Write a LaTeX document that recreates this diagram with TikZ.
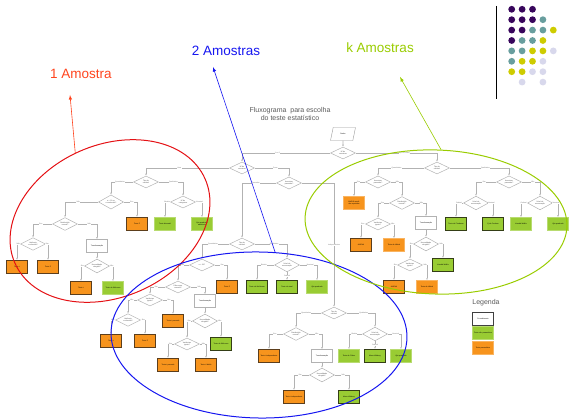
\documentclass[tikz,border=0pt]{standalone}
\usepackage{fontspec}
\setmainfont{Liberation Sans}
\usepackage{tikz}
\usetikzlibrary{arrows.meta,shapes.geometric}
\definecolor{testorange}{RGB}{247,148,29}
\definecolor{testgreen}{RGB}{153,204,51}
\definecolor{edgebrown}{RGB}{92,62,28}
\definecolor{edgeolive}{RGB}{52,62,22}
\definecolor{oneRed}{RGB}{255,68,30}
\definecolor{ellRed}{RGB}{228,16,20}
\definecolor{twoBlue}{RGB}{22,22,240}
\definecolor{kGreen}{RGB}{153,204,0}
\definecolor{dotP}{RGB}{56,6,92}
\definecolor{dotT}{RGB}{104,158,158}
\definecolor{dotY}{RGB}{206,204,0}
\definecolor{dotL}{RGB}{216,216,236}
\definecolor{dotN}{RGB}{255,255,255}

\begin{document}
\begin{tikzpicture}[x=1pt,y=-1pt,>=latex,
	tinytext/.style={font=\fontsize{1.8}{2.1}\selectfont},
	link/.style={draw=black!30,line width=0.6pt,-{Latex[length=2pt,width=1.6pt]}},
	elbl/.style={tinytext,fill=white,inner sep=0.3pt,text=black!55},
	askd/.style={diamond,tinytext,draw=black!30,fill=white,line width=0.5pt,minimum width=25pt,minimum height=12pt,inner sep=0pt,align=center,text=black!70},
	testbox/.style={rectangle,tinytext,minimum width=21pt,minimum height=13pt,inner sep=0.5pt,text width=19pt,align=center},
	ptest/.style={testbox,fill=testorange,draw=testorange!70!white,line width=0.5pt},
	ptestb/.style={ptest,draw=edgebrown,line width=1.2pt},
	ntest/.style={testbox,fill=testgreen,draw=testgreen!70!white,line width=0.5pt},
	ntestb/.style={ntest,draw=edgeolive,line width=1.2pt},
	procbox/.style={testbox,fill=white,draw=black!30,line width=0.6pt},
	bigtext/.style={font=\fontsize{13.5}{16}\selectfont}]
	\useasboundingbox (0,0) rectangle (569,419);
	\node[text=black!65,align=center,font=\fontsize{7}{8.5}\selectfont] (title) at (290,114) {Fluxograma\ \ para escolha\\do teste estatístico};
	\node[trapezium,trapezium left angle=70,trapezium right angle=110,trapezium stretches=true,tinytext,draw=black!40,fill=white,minimum width=25pt,minimum height=13pt,inner sep=0.5pt] (dados) at (343,134) {Dados};
	\node[askd] (nam) at (343,153) {Nº de\\amostras};
	\node[askd] (d12) at (242,168) {Nº de\\amostras};
	\node[askd] (dk) at (437,168) {Tipo de\\variável};
	% 1 amostra
	\node[askd] (a1) at (146,182) {Tipo de\\variável};
	\node[askd] (a1q) at (111,202) {n > 30 ou\\σ conhecido?};
	\node[askd] (a1c) at (183,202) {Nº de\\categorias};
	\node[ptestb] (a1z) at (137,224) {Teste Z};
	\node[ntest] (a1b) at (165,224) {Teste binomial};
	\node[ntest] (a1x) at (202,224) {Qui-quadrado aderência};
	\node[askd] (a1n) at (65,224) {Distribuição\\normal?};
	\node[askd] (a1v) at (33,244) {Variância\\conhecida?};
	\node[ptestb] (a1t) at (17,267) {Teste t};
	\node[ptestb] (a1s) at (48,267) {Teste Z};
	\node[procbox] (a1tr) at (97,246) {Transformação};
	\node[askd] (a1nn) at (97,266) {Normalidade\\atingida?};
	\node[ptestb] (a1tt) at (81,288) {Teste t};
	\node[ntest] (a1w) at (113,288) {Teste de Wilcoxon};
	% 2 amostras
	\node[askd] (d2) at (289,183) {Amostras\\pareadas?};
	\node[askd] (b) at (242,244) {Tipo de\\variável};
	\node[askd] (bq) at (202,265) {n > 30?};
	\node[askd] (bc) at (287,265) {Nível de\\mensuração};
	\node[ptestb] (bz) at (227,287) {Teste Z};
	\node[ntestb] (bg1) at (257,287) {Teste de McNemar};
	\node[ntestb] (bg2) at (287,287) {Teste do sinal};
	\node[ntest] (bg3) at (317,287) {Qui-quadrado};
	\node[askd] (bn) at (178,287) {Diferenças\\normais?};
	\node[askd] (bv) at (150,300) {Variâncias\\iguais?};
	\node[ptestb] (bt) at (173,321) {Teste t pareado};
	\node[askd] (bvv) at (128,320) {Variância\\conhecida?};
	\node[ptestb] (bo1) at (111,341) {Teste t};
	\node[ptestb] (bo2) at (145,341) {Teste Z};
	\node[procbox] (btr) at (205,301) {Transformação};
	\node[askd] (bnn) at (205,321) {Normalidade\\atingida?};
	\node[askd] (bnv) at (187,344) {Variâncias\\iguais?};
	\node[ntestb] (bw) at (221,344) {Teste de Wilcoxon};
	\node[ptestb] (bo3) at (168,365) {Teste t pareado};
	\node[ptestb] (bo4) at (206,365) {Teste t Welch};
	% amostras independentes
	\node[askd] (c) at (334,313) {Tipo de\\variável};
	\node[askd] (cq) at (296,334) {Distribuição\\normal?};
	\node[askd] (cc) at (375,334) {Nível de\\mensuração};
	\node[ptestb] (co) at (269,356) {Teste t independente};
	\node[procbox] (ctr) at (322,356) {Transformação};
	\node[ntest] (cg1) at (349,356) {Teste de Fisher};
	\node[ntestb] (cg2) at (375,356) {Mann-Whitney};
	\node[ntest] (cg3) at (401,356) {Qui-quadrado};
	\node[askd] (cnn) at (322,375) {Normalidade\\atingida?};
	\node[ptestb] (co2) at (294,397) {Teste t independente};
	\node[ntestb] (cg4) at (349,397) {Mann-Whitney};
	% k amostras
	\node[askd] (k1) at (378,182) {Amostras\\pareadas?};
	\node[askd] (k2) at (509,182) {Amostras\\pareadas?};
	\node[ptest] (k1o) at (354,203) {ANOVA medidas repetidas};
	\node[askd] (k1n) at (402,203) {Distribuição\\normal?};
	\node[askd] (k1v) at (378,224) {Variâncias\\iguais?};
	\node[ptestb] (k1o1) at (361,245) {ANOVA};
	\node[ptest] (k1o2) at (394,245) {Teste de Welch};
	\node[procbox] (k1tr) at (426,223) {Transformação};
	\node[askd] (k1nn) at (426,244) {Normalidade\\atingida?};
	\node[ntestb] (k1g) at (443,265) {Kruskal-Wallis};
	\node[askd] (k1vv) at (410,265) {Variâncias\\iguais?};
	\node[ptestb] (k1o3) at (394,287) {ANOVA};
	\node[ptest] (k1o4) at (427,287) {Teste de Welch};
	\node[askd] (k2a) at (476,203) {Nível de\\mensuração};
	\node[askd] (k2b) at (540,203) {Nível de\\mensuração};
	\node[ntestb] (k2g1) at (456,224) {Teste de Friedman};
	\node[ntestb] (k2g2) at (493,224) {Q de Cochran};
	\node[ntest] (k2g3) at (521,224) {Kruskal-Wallis};
	\node[ntest] (k2g4) at (558,224) {Qui-quadrado};
	% connectors
	\draw[link] (dados) -- (nam);
	\foreach \p/\c in {a1tr/a1nn,btr/bnn,ctr/cnn,k1tr/k1nn}
		\draw[link] (\p) -- (\c);
	\draw[link] (bc.south) -- node[elbl]{Ordinal} (bg2.north);
	\draw[link] (cc.south) -- node[elbl]{Ordinal} (cg2.north);
	\foreach \p/\c/\t in {nam/d12/1 ou 2, d12/a1/Uma, d2/b/Pareadas, dk/k1/Quantitativa,
		a1/a1q/Quantitativa, a1q/a1n/Não, a1n/a1v/Sim, a1v/a1t/Não, a1c/a1b/Binária, a1nn/a1tt/Sim,
		b/bq/Quantitativa, bq/bn/Não, bn/bv/Sim, bv/bvv/Não, bvv/bo1/Não, bc/bg1/Binária,
		bnn/bnv/Sim, bnv/bo3/Sim, c/cq/Quantitativa, cq/co/Sim, cc/cg1/Binária, cnn/co2/Sim,
		k1/k1o/Sim, k1n/k1v/Sim, k1v/k1o1/Sim, k1nn/k1vv/Sim, k1vv/k1o3/Sim,
		k2/k2a/Sim, k2a/k2g1/Ordinal, k2b/k2g3/Ordinal}
		\draw[link] (\p.west) -| node[elbl,pos=.3]{\t} (\c.north);
	\foreach \p/\c/\t in {nam/dk/k (3 ou mais), d12/d2/Duas, dk/k2/Qualitativa,
		a1/a1c/Qualitativa, a1q/a1z/Sim, a1n/a1tr/Não, a1v/a1s/Sim, a1c/a1x/Nominal, a1nn/a1w/Não,
		b/bc/Qualitativa, bq/bz/Sim, bn/btr/Não, bv/bt/Sim, bvv/bo2/Sim, bc/bg3/Nominal,
		bnn/bw/Não, bnv/bo4/Não, c/cc/Qualitativa, cq/ctr/Não, cc/cg3/Nominal, cnn/cg4/Não,
		k1/k1n/Não, k1n/k1tr/Não, k1v/k1o2/Não, k1nn/k1g/Não, k1vv/k1o4/Não,
		k2/k2b/Não, k2a/k2g2/Nominal, k2b/k2g4/Nominal}
		\draw[link] (\p.east) -| node[elbl,pos=.3]{\t} (\c.north);
	\draw[link] (d2.east) -| node[elbl,pos=.75]{Independentes} (c.north);
	% legenda
	\node[text=black!65,font=\fontsize{7}{8}\selectfont] (leg) at (486,303) {Legenda};
	\node[procbox,draw=black!75,line width=1.1pt] (lgproc) at (483,319) {Procedimento};
	\node[ntest] (lgnp) at (483,333) {Teste não paramétrico};
	\node[ptest] (lgp) at (483,348) {Teste paramétrico};
	% paleta
	\draw[line width=1pt] (496,6) -- (496,99);
	\foreach \cols [count=\r] in {{P,P,P},{P,P,P,T},{P,P,T,T,Y},{P,T,T,Y},{T,T,Y,Y,L},{T,Y,Y,L},{Y,Y,L,L},{N,L,N,L}}
		\foreach \c [count=\i] in \cols
			\fill[fill=dot\c] ({501.3+10.4*\i},{-1.1+10.4*\r}) circle (3.4);
	% grupos
	\node[bigtext,text=oneRed] (onelbl) at (81,74) {1 Amostra};
	\node[bigtext,text=twoBlue] (twolbl) at (226,51) {2 Amostras};
	\node[bigtext,text=kGreen] (klbl) at (380,48) {k Amostras};
	\node[ellipse,draw=ellRed,line width=1pt,minimum width=208pt,minimum height=152pt,inner sep=0pt,rotate=24] (oneell) at (110,221) {};
	\node[ellipse,draw=twoBlue,line width=1pt,minimum width=296pt,minimum height=166pt,inner sep=0pt,rotate=-1] (twoell) at (259,335) {};
	\node[ellipse,draw=kGreen,line width=1pt,minimum width=262pt,minimum height=144pt,inner sep=0pt,rotate=-2] (kell) at (436,222) {};
	\coordinate (onetip) at (70,95);
	\coordinate (twotip) at (213,67);
	\coordinate (ktip) at (400,77);
	\draw[->,draw=oneRed,line width=0.6pt] (oneell.93) -- (onetip);
	\draw[->,draw=twoBlue,line width=0.6pt] (twoell.80) -- (twotip);
	\draw[->,draw=kGreen,line width=0.6pt] (kell.88) -- (ktip);
\end{tikzpicture}
\end{document}
